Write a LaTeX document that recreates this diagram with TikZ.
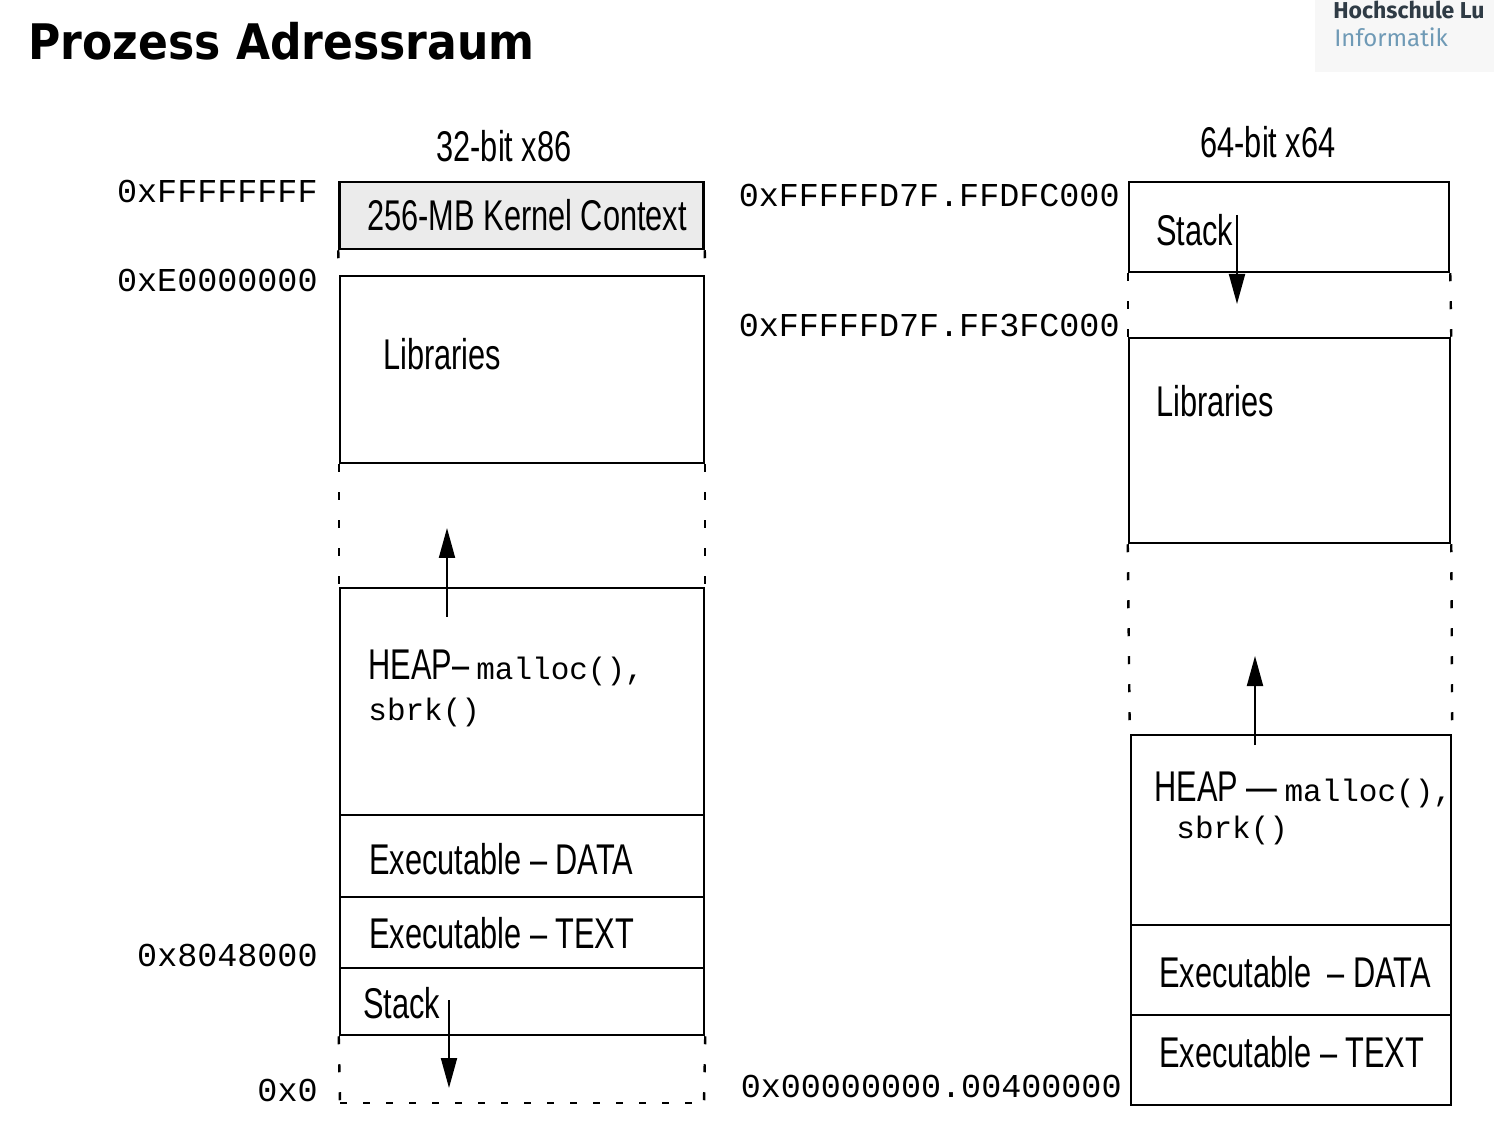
\documentclass[tikz,border=0pt]{standalone}
\usepackage{fontspec}
\usetikzlibrary{arrows.meta}
\newfontfamily\nsans[FakeStretch=0.715]{Liberation Sans}
\newfontfamily\monof{Liberation Mono}
\newfontfamily\titlef[FakeStretch=0.9]{DejaVu Sans}
\newfontfamily\logof{Fira Sans}
\definecolor{logodark}{HTML}{2F3B45}
\definecolor{logoblue}{HTML}{6F9AB6}
\begin{document}
\begin{tikzpicture}[x=0.5pt,y=-0.5pt,
  mem/.style={draw, line width=1.25pt, inner sep=0pt, minimum width=#1},
  mem/.default=182pt,
  gap/.style={line width=1.2pt, dash pattern=on 4pt off 10pt},
  bdash/.style={line width=1.2pt, dash pattern=on 3.5pt off 8pt},
  arr/.style={line width=1pt, -{Triangle[length=15pt,width=8pt]}},
  lbl/.style={font=\nsans\fontsize{21.5}{24}\selectfont, anchor=base west, inner sep=0pt},
  hdr/.style={font=\nsans\fontsize{21.5}{24}\selectfont, anchor=base, inner sep=0pt},
  addr/.style={font=\monof\fontsize{16.7}{20}\selectfont, anchor=base east, inner sep=0pt},
  mono/.style={font=\monof\fontsize{15.5}{20}\selectfont, anchor=base west, inner sep=0pt},
]
\useasboundingbox (0,0) rectangle (1494,1122);
% logo
\fill[black!3] (1315,0) rectangle (1494,72);
\node[anchor=base west, inner sep=0pt, text=logodark, font=\logof\bfseries\fontsize{11.5}{14}\selectfont] (logo1) at (1333,19) {Hochschule Lu};
\node[anchor=base west, inner sep=0pt, text=logoblue, font=\logof\fontsize{12}{14}\selectfont] (logo2) at (1334,47) {Informatik};
% title
\node[anchor=base west, inner sep=0pt, font=\titlef\bfseries\fontsize{24.5}{28}\selectfont] (title) at (28,60) {Prozess Adressraum};

% ---------- 32-bit ----------
\node[hdr] (h32) at (504,162) {32-bit x86};
\node[mem, fill=black!8, minimum height=33.5pt] (k32) at (521.5,215.5) {};
\node[mem, minimum height=93.5pt] (lib32) at (522,369.5) {};
\node[mem, minimum height=113.5pt] (heap32) at (522,701.5) {};
\node[mem, minimum height=41pt] (data32) at (522,856) {};
\node[mem, minimum height=35.5pt] (text32) at (522,932.5) {};
\node[mem, minimum height=33.5pt] (stack32) at (522,1001.5) {};

\draw[gap] (k32.south west) -- (lib32.north west);
\draw[gap] (k32.south east) -- (lib32.north east);
\draw[gap] (lib32.south west) -- (heap32.north west);
\draw[gap] (lib32.south east) -- (heap32.north east);
\coordinate (bl32) at (340,1103);
\coordinate (br32) at (704,1103);
\draw[gap] (stack32.south west) -- (bl32);
\draw[gap] (stack32.south east) -- (br32);
\draw[bdash] (bl32) -- (br32);

\node[lbl] (tk32) at (367,231) {256-MB Kernel Context};
\node[lbl] (tl32) at (383,370) {Libraries};
\node[lbl] (th32) at (368,680) {HEAP–\,{\monof\fontsize{15.5}{20}\selectfont malloc(),}};
\node[mono] (ts32) at (368,720) {sbrk()};
\node[lbl] (td32) at (369,874) {Executable – DATA};
\node[lbl] (tt32) at (369,948) {Executable – TEXT};
\node[lbl] (tst32) at (363,1018) {Stack};

\coordinate (ha32s) at (447,617);
\coordinate (ha32e) at (447,528);
\draw[arr] (ha32s) -- (ha32e);
\coordinate (sa32s) at (449,1000);
\coordinate (sa32e) at (449,1088);
\draw[arr] (sa32s) -- (sa32e);

\node[addr] (a1) at (318,203) {0xFFFFFFFF};
\node[addr] (a2) at (318,292) {0xE0000000};
\node[addr] (a3) at (318,966) {0x8048000};
\node[addr] (a4) at (318,1101) {0x0};

% ---------- 64-bit ----------
\node[hdr] (h64) at (1268,158) {64-bit x64};
\node[mem=160pt, minimum height=45pt] (st64) at (1289,227) {};
\node[mem=160.5pt, minimum height=102.5pt] (lib64) at (1289.5,440.5) {};
\node[mem=160pt, minimum height=95pt] (heap64) at (1291,830) {};
\node[mem=160pt, minimum height=45pt] (data64) at (1291,970) {};
\node[mem=160pt, minimum height=45pt] (text64) at (1291,1060) {};

\draw[gap] (st64.south west) -- (lib64.north west);
\draw[gap] (st64.south east) -- (lib64.north east);
\draw[gap] (lib64.south west) -- (heap64.north west);
\draw[gap] (lib64.south east) -- (heap64.north east);

\node[lbl] (tst64) at (1156,246) {Stack};
\node[lbl] (tl64) at (1156,417) {Libraries};
\node[lbl] (th64) at (1154,801) {HEAP —\,{\monof\fontsize{15.5}{20}\selectfont malloc(),}};
\node[mono] (ts64) at (1176,838) {sbrk()};
\node[lbl] (td64) at (1159,987) {Executable\hspace{8pt}– DATA};
\node[lbl] (tt64) at (1159,1067) {Executable – TEXT};

\coordinate (sa64s) at (1237,215);
\coordinate (sa64e) at (1237,304);
\draw[arr] (sa64s) -- (sa64e);
\coordinate (ha64s) at (1255,745);
\coordinate (ha64e) at (1255,656);
\draw[arr] (ha64s) -- (ha64e);

\node[addr] (b1) at (1120,207) {0xFFFFFD7F.FFDFC000};
\node[addr] (b2) at (1120,337) {0xFFFFFD7F.FF3FC000};
\node[addr] (b3) at (1122,1097) {0x00000000.00400000};
\end{tikzpicture}
\end{document}
